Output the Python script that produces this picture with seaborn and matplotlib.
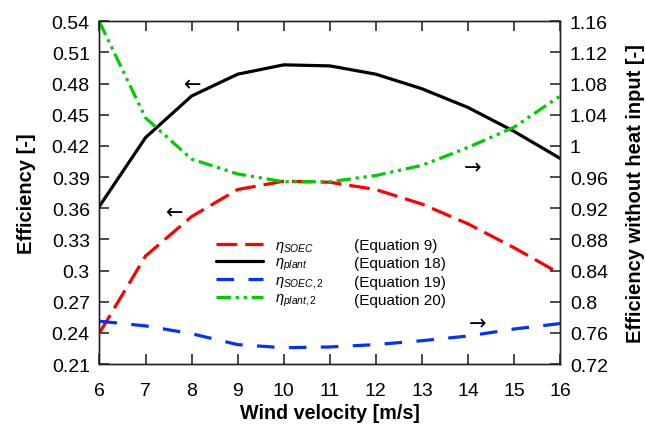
import numpy as np
import pandas as pd
import matplotlib
matplotlib.use("Agg")
import matplotlib.pyplot as plt
import seaborn as sns
from matplotlib.ticker import FuncFormatter, MultipleLocator

wind = [6, 7, 8, 9, 10, 11, 12, 13, 14, 15, 16]
eta_soec = [0.240, 0.314, 0.352, 0.378, 0.386, 0.385, 0.378, 0.364, 0.345, 0.322, 0.297]
eta_plant = [0.362, 0.428, 0.468, 0.489, 0.498, 0.497, 0.489, 0.475, 0.457, 0.434, 0.408]
eta_soec2 = [0.775, 0.769, 0.759, 0.745, 0.741, 0.742, 0.745, 0.750, 0.756, 0.765, 0.772]
eta_plant2 = [1.159, 1.036, 0.983, 0.964, 0.954, 0.954, 0.962, 0.975, 0.998, 1.024, 1.064]

legend_labels = [r"$\eta_{SOEC}$", r"$\eta_{plant}$", r"$\eta_{SOEC,2}$", r"$\eta_{plant,2}$"]
eq_labels = ["(Equation 9)", "(Equation 18)", "(Equation 19)", "(Equation 20)"]

sns.set_theme(style="white")
plt.rcParams['font.family'] = ['Liberation Sans', 'DejaVu Sans']
plt.rcParams['mathtext.fontset'] = 'custom'
plt.rcParams['mathtext.it'] = 'Liberation Sans:italic'
plt.rcParams['mathtext.rm'] = 'Liberation Sans'
plt.rcParams['text.color'] = 'black'
plt.rcParams['axes.labelcolor'] = 'black'
plt.rcParams['xtick.color'] = 'black'
plt.rcParams['ytick.color'] = 'black'

df = pd.DataFrame({"wind": wind, "soec": eta_soec, "plant": eta_plant,
                   "soec2": eta_soec2, "plant2": eta_plant2})

fig = plt.figure(figsize=(6.46, 4.27), dpi=100)
ax = fig.add_axes([0.154, 0.145, 0.713, 0.803])
ax2 = ax.twinx()

LW = 2.3
sns.lineplot(data=df, x="wind", y="soec", ax=ax, color="#ff0000", lw=LW)
sns.lineplot(data=df, x="wind", y="plant", ax=ax, color="black", lw=LW)
sns.lineplot(data=df, x="wind", y="soec2", ax=ax2, color="#0033ff", lw=LW)
sns.lineplot(data=df, x="wind", y="plant2", ax=ax2, color="#00cc00", lw=LW)

l_soec, l_plant = ax.lines[0], ax.lines[1]
l_soec2, l_plant2 = ax2.lines[0], ax2.lines[1]
l_soec.set_dashes([6.5, 2.5])
l_soec2.set_dashes([5.5, 4.5])
l_plant2.set_dashes([4.5, 1.5, 1, 1.5, 1, 1.5])

ax.set_xlim(6, 16)
ax.set_ylim(0.21, 0.54)
ax2.set_ylim(0.72, 1.16)
ax.xaxis.set_major_locator(MultipleLocator(1))
ax.yaxis.set_major_locator(MultipleLocator(0.03))
ax2.yaxis.set_major_locator(MultipleLocator(0.04))
fmt = FuncFormatter(lambda v, p: "%g" % round(v, 2))
ax.yaxis.set_major_formatter(fmt)
ax2.yaxis.set_major_formatter(fmt)

for a in (ax, ax2):
    for s in a.spines.values():
        s.set_color("#222222")
        s.set_linewidth(1.0)
ax.tick_params(axis="x", direction="in", length=7, top=True, bottom=True, labelsize=14, pad=13,
               color="#333333", labelcolor="black")
ax.tick_params(axis="y", direction="in", length=7, left=True, right=False, labelsize=14, pad=7,
               color="#333333", labelcolor="black")
ax2.tick_params(axis="y", direction="in", length=7, right=True, labelsize=14, pad=7,
                color="#333333", labelcolor="black")

ax.set_xlabel("Wind velocity [m/s]", fontsize=14.2, fontweight="bold", labelpad=3, color="black")
ax.set_ylabel("Efficiency [-]", fontsize=14.5, fontweight="bold", labelpad=11, color="black")
ax2.set_ylabel("Efficiency without heat input [-]", fontsize=14.5, fontweight="bold", labelpad=13, color="black")

ax.text(8.03, 0.479, "←", fontsize=15, ha="center", va="center", family=['DejaVu Sans'])
ax.text(7.63, 0.356, "←", fontsize=15, ha="center", va="center", family=['DejaVu Sans'])
ax2.text(14.1, 0.973, "→", fontsize=15, ha="center", va="center", family=['DejaVu Sans'])
ax2.text(14.2, 0.7726, "→", fontsize=15, ha="center", va="center", family=['DejaVu Sans'])

leg = ax.legend([l_soec, l_plant, l_soec2, l_plant2], legend_labels,
                loc="upper left", bbox_to_anchor=(0.225, 0.405), frameon=False,
                fontsize=10.5, handlelength=3.2, labelspacing=0.05, handletextpad=0.8)
for txt in leg.get_texts():
    txt.set_color("black")
for t, y in zip(eq_labels, [0.348, 0.294, 0.238, 0.187]):
    ax.text(0.553, y, t, transform=ax.transAxes, fontsize=11, ha="left", va="center", color="black")

fig.savefig("out.png", dpi=100)
